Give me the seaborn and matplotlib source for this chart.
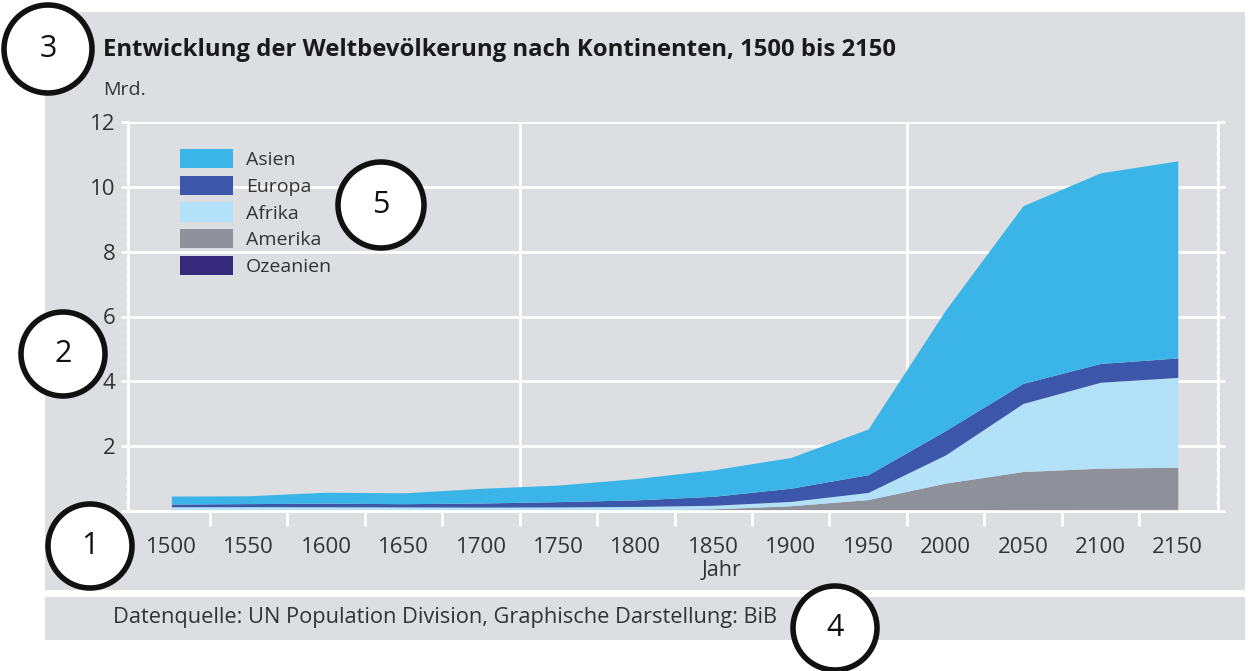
import numpy as np
import pandas as pd
import seaborn as sns
import matplotlib.pyplot as plt
from matplotlib.patches import Rectangle, Circle, Patch
from matplotlib.ticker import MultipleLocator, FixedLocator

# Bevoelkerung in Mrd.
years = [1500, 1550, 1600, 1650, 1700, 1750, 1800, 1850, 1900, 1950, 2000, 2050, 2100, 2150]
ozeanien = [0.003, 0.003, 0.003, 0.003, 0.003, 0.002, 0.002, 0.002, 0.006, 0.013, 0.031, 0.047, 0.051, 0.052]
amerika = [0.042, 0.030, 0.013, 0.013, 0.012, 0.018, 0.031, 0.064, 0.156, 0.339, 0.83, 1.17, 1.27, 1.30]
afrika = [0.086, 0.100, 0.114, 0.110, 0.106, 0.106, 0.107, 0.111, 0.133, 0.221, 0.87, 2.10, 2.65, 2.77]
europa = [0.084, 0.095, 0.111, 0.100, 0.125, 0.163, 0.203, 0.276, 0.408, 0.547, 0.75, 0.62, 0.58, 0.60]
asien = [0.245, 0.242, 0.339, 0.334, 0.454, 0.511, 0.657, 0.817, 0.947, 1.41, 3.72, 5.48, 5.88, 6.08]

legend_order = ['Asien', 'Europa', 'Afrika', 'Amerika', 'Ozeanien']
stack_order = ['Ozeanien', 'Amerika', 'Afrika', 'Europa', 'Asien']
colors = {'Asien': '#3bb5e8', 'Europa': '#3c56a9', 'Afrika': '#b3e1f7',
          'Amerika': '#8e9199', 'Ozeanien': '#36297b'}

df = pd.DataFrame({'Jahr': years, 'Ozeanien': ozeanien, 'Amerika': amerika,
                   'Afrika': afrika, 'Europa': europa, 'Asien': asien})

sns.set_theme(style='white')
plt.rcParams['font.family'] = ['Open Sans', 'DejaVu Sans']

W, H = 1251, 671
bg = '#dddee2'
txt = '#333333'
fig = plt.figure(figsize=(W / 100, H / 100), dpi=100, facecolor='white')

# graue Flaechen
fig.add_artist(Rectangle((45 / W, 1 - 590 / H), 1200 / W, 578 / H, transform=fig.transFigure,
                         facecolor=bg, edgecolor='none', zorder=-2))
fig.add_artist(Rectangle((45 / W, 1 - 640 / H), 1200 / W, 43 / H, transform=fig.transFigure,
                         facecolor=bg, edgecolor='none', zorder=-2))

ax = fig.add_axes([128 / W, 1 - 511 / H, 1090 / W, 389 / H])
ax.set_facecolor('none')
ax.set_axisbelow(True)

ax.stackplot(df['Jahr'], [df[c] for c in stack_order],
             colors=[colors[c] for c in stack_order], linewidth=0, zorder=2)

ax.set_xlim(1472, 2176)
ax.set_ylim(0, 12)

ax.set_xticks(years)
ax.set_xticklabels([str(y) for y in years])
ax.xaxis.set_minor_locator(FixedLocator(list(range(1525, 2150, 50))))
ax.set_yticks([0, 2, 4, 6, 8, 10, 12])
ax.set_yticklabels(['', '2', '4', '6', '8', '10', '12'])
ax.yaxis.set_minor_locator(MultipleLocator(0.25))

ax.yaxis.grid(True, color='white', lw=2)
ax.xaxis.grid(False)
for xv in [1725, 1975]:
    ax.axvline(xv, color='white', lw=2, zorder=0)

for s in ['left', 'right', 'bottom']:
    ax.spines[s].set_color('white')
    ax.spines[s].set_linewidth(2)
ax.spines['top'].set_visible(False)

ax.tick_params(axis='y', which='major', left=True, right=True, length=5, width=2,
               color='white', pad=4, labelsize=16, labelcolor=txt)
ax.tick_params(axis='y', which='minor', left=True, right=True, length=3, width=1.2,
               color='white', direction='inout')
ax.tick_params(axis='x', which='major', bottom=True, length=0, pad=19, labelsize=16, labelcolor=txt)
ax.tick_params(axis='x', which='minor', bottom=True, length=11, width=2, color='white')

ax.set_xlabel('Jahr', fontsize=15.5, color=txt)
ax.xaxis.set_label_coords(0.545, -0.125)

handles = [Patch(facecolor=colors[c], edgecolor='none', label=c) for c in legend_order]
leg = ax.legend(handles=handles, loc='upper left', bbox_to_anchor=(180 / W, 1 - 149 / H),
                bbox_transform=fig.transFigure, frameon=False, fontsize=14,
                handlelength=2.75, handleheight=1.15, labelspacing=0.33, handletextpad=0.65,
                borderaxespad=0, borderpad=0)
for t in leg.get_texts():
    t.set_color(txt)

fig.text(103 / W, 1 - 50 / H, 'Entwicklung der Weltbevölkerung nach Kontinenten, 1500 bis 2150',
         fontsize=17.2, fontweight='bold', color='#1a1a1a', va='center', ha='left')
fig.text(103 / W, 1 - 90 / H, 'Mrd.', fontsize=14, color=txt, va='center', ha='left')
fig.text(113 / W, 1 - 618 / H, 'Datenquelle: UN Population Division, Graphische Darstellung: BiB',
         fontsize=15.7, color=txt, va='center', ha='left')

# nummerierte Markierungen
marks = [('3', 48, 49, 0.44), ('2', 63, 354, 0.42), ('1', 90, 546, 0.42),
         ('4', 835, 628, 0.42), ('5', 381, 205, 0.43)]
for num, cx, cy, r in marks:
    fig.add_artist(Circle((cx / 100, (H - cy) / 100), r, transform=fig.dpi_scale_trans,
                          facecolor='white', edgecolor='#111111', lw=4, zorder=10))
    fig.text(cx / W, 1 - cy / H, num, fontsize=22, color='#111111',
             ha='center', va='center', zorder=11)

fig.savefig('out.png', dpi=100, facecolor='white')
